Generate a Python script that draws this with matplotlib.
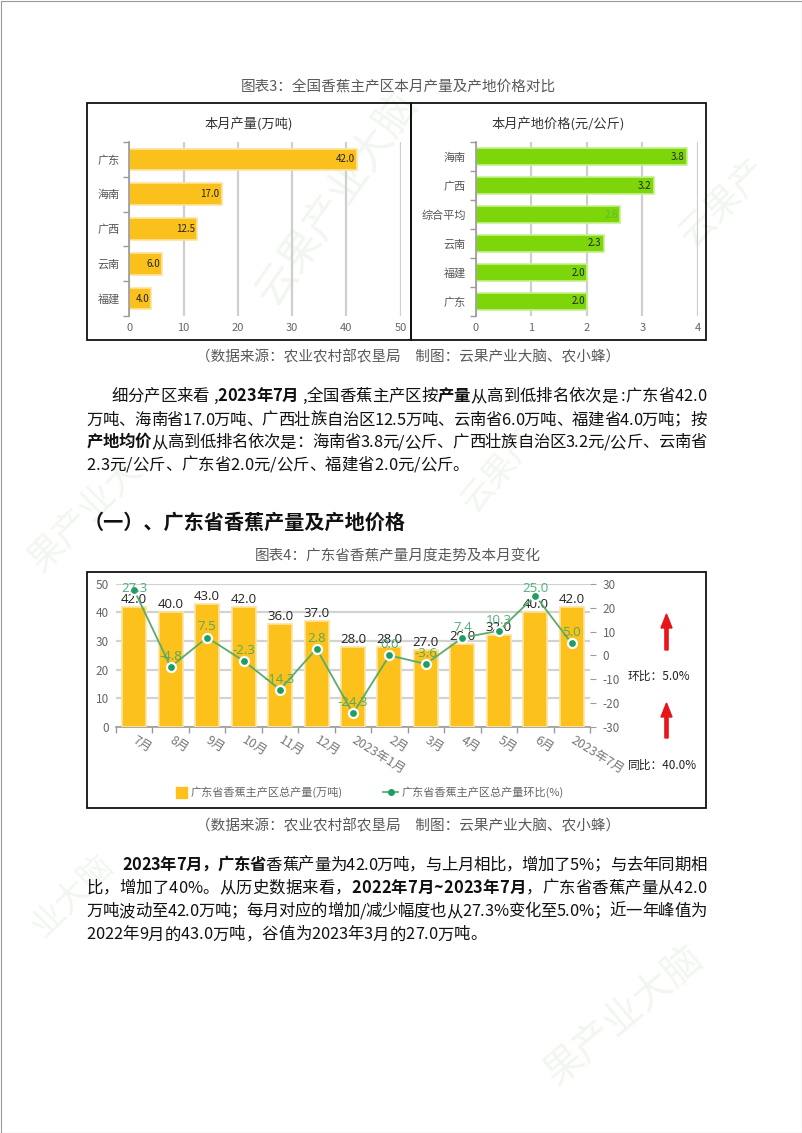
import numpy as np
import matplotlib
matplotlib.use('Agg')
import matplotlib.pyplot as plt
from matplotlib.font_manager import FontProperties, findfont
from matplotlib.patches import Rectangle, FancyArrow
import matplotlib.patheffects as pe

W, H = 802, 1133
CJK = 'Noto Sans CJK SC'
plt.rcParams['font.family'] = [CJK, 'DejaVu Sans']
plt.rcParams['axes.unicode_minus'] = False

# ---------------- data ----------------
prod_regions = ['广东', '海南', '广西', '云南', '福建']
prod_values = [42.0, 17.0, 12.5, 6.0, 4.0]
price_regions = ['海南', '广西', '综合平均', '云南', '福建', '广东']
price_values = [3.8, 3.2, 2.6, 2.3, 2.0, 2.0]

months = ['7月', '8月', '9月', '10月', '11月', '12月', '2023年1月',
          '2月', '3月', '4月', '5月', '6月', '2023年7月']
gd_output = [42.0, 40.0, 43.0, 42.0, 36.0, 37.0, 28.0, 28.0, 27.0, 29.0, 32.0, 40.0, 42.0]
gd_mom = [27.3, -4.8, 7.5, -2.3, -14.3, 2.8, -24.3, 0.0, -3.6, 7.4, 10.3, 25.0, 5.0]
series_output = '广东省香蕉主产区总产量(万吨)'
series_mom = '广东省香蕉主产区总产量环比(%)'
mom_latest = 5.0
yoy_latest = 40.0

title3 = '图表3：全国香蕉主产区本月产量及产地价格对比'
sub_left = '本月产量(万吨)'
sub_right = '本月产地价格(元/公斤)'
title4 = '图表4：广东省香蕉产量月度走势及本月变化'
caption = '（数据来源：农业农村部农垦局　制图：云果产业大脑、农小蜂）'
heading = '（一）、广东省香蕉产量及产地价格'

para1 = [
    [('细分产区来看 ,', 0), ('2023年7月', 1), (' ,全国香蕉主产区按', 0), ('产量', 1),
     ('从高到低排名依次是 :广东省42.0', 0)],
    [('万吨、海南省17.0万吨、广西壮族自治区12.5万吨、云南省6.0万吨、福建省4.0万吨；按', 0)],
    [('产地均价', 1), ('从高到低排名依次是：海南省3.8元/公斤、广西壮族自治区3.2元/公斤、云南省', 0)],
    [('2.3元/公斤、广东省2.0元/公斤、福建省2.0元/公斤。', 0)],
]
para2 = [
    [('2023年7月，广东省', 1), ('香蕉产量为42.0万吨，与上月相比，增加了5%；与去年同期相', 0)],
    [('比，增加了40%。从历史数据来看，', 0), ('2022年7月~2023年7月', 1), ('，广东省香蕉产量从42.0', 0)],
    [('万吨波动至42.0万吨；每月对应的增加/减少幅度也从27.3%变化至5.0%；近一年峰值为', 0)],
    [('2022年9月的43.0万吨，谷值为2023年3月的27.0万吨。', 0)],
]

# ---------------- figure ----------------
fig = plt.figure(figsize=(W / 100, H / 100), dpi=100)
fig.patch.set_facecolor('white')
renderer = fig.canvas.get_renderer()


def rect(l, t, r, b):
    return [l / W, 1 - b / H, (r - l) / W, (b - t) / H]


bg = fig.add_axes([0, 0, 1, 1], zorder=0)
bg.set_xlim(0, W); bg.set_ylim(H, 0); bg.axis('off')
ov = fig.add_axes([0, 0, 1, 1], zorder=10)
ov.set_xlim(0, W); ov.set_ylim(H, 0); ov.axis('off')

# faint watermarks
for (cx, cy, ang, fs, s) in [(337, 198, 55, 30, '云果产业大脑'), (724, 202, 45, 26, '云果产'),
                             (85, 515, 45, 26, '果产业大'), (624, 1015, 40, 28, '果产业大脑'),
                             (72, 896, 45, 24, '业大脑'), (500, 470, 50, 24, '云果产')]:
    bg.text(cx, cy, s, rotation=ang, fontsize=fs, color='#f1f7ef', ha='center', va='center')

bold_path = findfont(FontProperties(family=CJK, weight='bold'))
HAS_BOLD = 'bold' in bold_path.lower()

_adv = {}


def advance(c, bold, size):
    key = (c, bold, size)
    if key not in _adv:
        fp = FontProperties(family=CJK, size=size, weight='bold' if bold else 'normal')
        w1 = renderer.get_text_width_height_descent('|' + c + '|', fp, ismath=False)[0]
        w0 = renderer.get_text_width_height_descent('||', fp, ismath=False)[0]
        _adv[key] = w1 - w0
    return _adv[key]


def draw_line(x0, x1, yc, segs, size, justify, color='#111111'):
    chars = [(c, b) for t, b in segs for c in t]
    adv = [advance(c, b, size) for c, b in chars]
    total = sum(adv)
    gap = (x1 - x0 - total) / (len(chars) - 1) if (justify and len(chars) > 1) else 0.0
    em = size * 100 / 72
    yb = yc + 0.38 * em
    x = x0
    for (c, b), a in zip(chars, adv):
        kw = {}
        if b and not HAS_BOLD:
            kw['path_effects'] = [pe.withStroke(linewidth=0.8, foreground=color)]
        ov.text(x, yb, c, fontsize=size, fontweight='bold' if b else 'normal', color=color,
                ha='left', va='baseline', family=CJK, **kw)
        x += a + gap


# ---------------- titles / captions ----------------
ov.text(398, 87, title3, ha='center', va='center', fontsize=10.5, color='#595959')
ov.text(408, 357, caption, ha='center', va='center', fontsize=10.5, color='#595959')
ov.text(398, 556, title4, ha='center', va='center', fontsize=10.5, color='#595959')
ov.text(408, 826, caption, ha='center', va='center', fontsize=10.5, color='#595959')
ov.text(84, 521 + 0.38 * 20, heading, ha='left', va='baseline', fontsize=14.5,
        fontweight='bold', color='#111111')

# boxes
ov.add_patch(Rectangle((87, 103), 324, 236.5, fill=False, ec='#111111', lw=1.3))
ov.add_patch(Rectangle((411, 103), 295, 236.5, fill=False, ec='#111111', lw=1.3))
ov.add_patch(Rectangle((87, 572), 619, 236, fill=False, ec='#111111', lw=1.3))
ov.add_patch(Rectangle((0.5, 0.5), W - 1, H - 1, fill=False, ec='#9a9a9a', lw=0.8))

# paragraphs
SZ = 11.8
y1 = [395, 418.5, 441, 463.5]
x0s1 = [111, 86.5, 86.5, 86.5]
for i, segs in enumerate(para1):
    draw_line(x0s1[i], 706.5, y1[i], segs, SZ, justify=(i < len(para1) - 1))
y2 = [863.3, 886.6, 909.9, 933.2]
x0s2 = [122, 86.5, 86.5, 86]
for i, segs in enumerate(para2):
    draw_line(x0s2[i], 706.5, y2[i], segs, SZ, justify=(i < len(para2) - 1))


# ---------------- top bar charts ----------------
def hbar(axrect, cats, vals, xmax, step, color, edge, sub, subx, labcolors):
    ax = fig.add_axes(rect(*axrect), zorder=2)
    ax.set_facecolor('none')
    y = np.arange(len(cats))
    ax.barh(y, vals, height=0.62, color=color, edgecolor=edge, lw=1.2, zorder=3)
    ax.set_ylim(len(cats) - 0.5, -0.5)
    ax.set_xlim(0, xmax)
    ax.set_xticks(np.arange(0, xmax + step / 2, step))
    ax.grid(axis='x', color='#cfcfcf', lw=1.6)
    ax.set_axisbelow(True)
    for s in ['top', 'right', 'bottom']:
        ax.spines[s].set_visible(False)
    ax.spines['left'].set_color('#9a9a9a')
    ax.spines['left'].set_linewidth(1.2)
    ax.spines['left'].set_zorder(4)
    ax.set_yticks(y)
    ax.set_yticklabels(cats)
    ax.set_yticks(np.arange(-0.5, len(cats)), minor=True)
    ax.tick_params(axis='y', which='major', length=0, pad=7, labelsize=8, labelcolor='#555555')
    ax.tick_params(axis='y', which='minor', length=4, color='#9a9a9a', width=1)
    ax.tick_params(axis='x', length=0, labelsize=8, labelcolor='#666666', pad=5)
    for yi, v, lc in zip(y, vals, labcolors):
        ax.annotate(f'{v:.1f}', (v, yi), xytext=(-2, 0), textcoords='offset pixels',
                    ha='right', va='center', fontsize=7, color=lc, zorder=5)
    ov.text(subx, 124.5, sub, ha='center', va='center', fontsize=9.5, color='#333333')
    return ax


hbar((129.4, 142, 400.5, 316), prod_regions, prod_values, 50, 10, '#FAC11C', '#FDE3A0',
     sub_left, 249, ['#222222'] * len(prod_values))
hbar((475.7, 142, 698, 316), price_regions, price_values, 4, 1, '#7DD60A', '#C8F08E',
     sub_right, 558.5, ['#222222', '#222222', '#5DBA2A', '#222222', '#222222', '#222222'])

# ---------------- combo chart ----------------
NUMF = ['Open Sans', 'DejaVu Sans']
ax3 = fig.add_axes(rect(116, 583.8, 590, 727), zorder=2)
ax3.set_facecolor('none')
x = np.arange(len(months))
ax3.bar(x, gd_output, width=0.66, color='#FCC21B', edgecolor='#FDE3A0', lw=1.2, zorder=3)
ax3.set_xlim(-0.5, len(months) - 0.5)
ax3.set_ylim(0, 50)
ax3.set_yticks(range(0, 51, 10))
ax3.grid(axis='y', color='#d2d2d2', lw=1.6)
ax3.set_axisbelow(True)
for s in ['top', 'right', 'left']:
    ax3.spines[s].set_visible(False)
ax3.spines['bottom'].set_color('#9a9a9a')
ax3.spines['bottom'].set_linewidth(1.2)
ax3.tick_params(axis='y', length=0, pad=5, labelsize=8.5, labelcolor='#666666')
ax3.set_xticks(x)
ax3.set_xticklabels(months, rotation=-32, ha='left', va='center', rotation_mode='anchor')
ax3.set_xticks(np.arange(-0.5, len(months)), minor=True)
ax3.tick_params(axis='x', which='major', length=0, pad=9, labelsize=9, labelcolor='#777777')
ax3.tick_params(axis='x', which='minor', length=4, color='#9a9a9a', width=1)
for xi, v in zip(x, gd_output):
    ax3.annotate(f'{v:.1f}', (xi, v), xytext=(0, 1), textcoords='offset pixels',
                 ha='center', va='bottom', fontsize=9.5, color='#222222', zorder=5,
                 family=NUMF)

ax4 = ax3.twinx()
ax4.set_ylim(-30, 30)
ax4.set_yticks(range(-30, 31, 10))
for s in ['top', 'right', 'left', 'bottom']:
    ax4.spines[s].set_visible(False)
ax4.tick_params(axis='y', length=4, color='#9a9a9a', pad=5, labelsize=8.5, labelcolor='#666666')
ax4.plot(x, gd_mom, color='#5AAB6E', lw=1.3, marker='o', ms=6.5, mfc='#1E9E63', mec='white',
         mew=1.6, zorder=6)
top_disp = H - 583.8
for xi, v in zip(x, gd_mom):
    px, py = ax4.transData.transform((xi, v))
    yc = min(py + 10.5, top_disp - 5.2)
    ax4.annotate(f'{v:.1f}', (xi, v), xytext=(0, yc - py), textcoords='offset pixels',
                 ha='center', va='center', fontsize=9.5, color='#3FA66A', alpha=0.9, zorder=7,
                 family=NUMF)

# legend (manual)
ov.add_patch(Rectangle((176, 787), 11, 10.5, color='#FCC21B'))
ov.text(191, 792, series_output, ha='left', va='center', fontsize=8, color='#666666')
ov.plot([383, 398], [792, 792], color='#5AAB6E', lw=1.3)
ov.plot([390.5], [792], 'o', ms=4, color='#1E9E63')
ov.text(402, 792, series_mom, ha='left', va='center', fontsize=8, color='#666666')

# side annotations
red = '#E8141B'
ov.add_patch(FancyArrow(666.5, 650, 0, -36, width=3.2, head_width=11, head_length=14,
                        length_includes_head=True, color=red))
ov.add_patch(FancyArrow(666.5, 738, 0, -35, width=3.2, head_width=11, head_length=14,
                        length_includes_head=True, color=red))
ov.text(628, 676, f'环比：{mom_latest:.1f}%', ha='left', va='center', fontsize=8.5, color='#222222')
ov.text(628, 765, f'同比：{yoy_latest:.1f}%', ha='left', va='center', fontsize=8.5, color='#222222')

fig.savefig('out.png', dpi=100, facecolor='white')
